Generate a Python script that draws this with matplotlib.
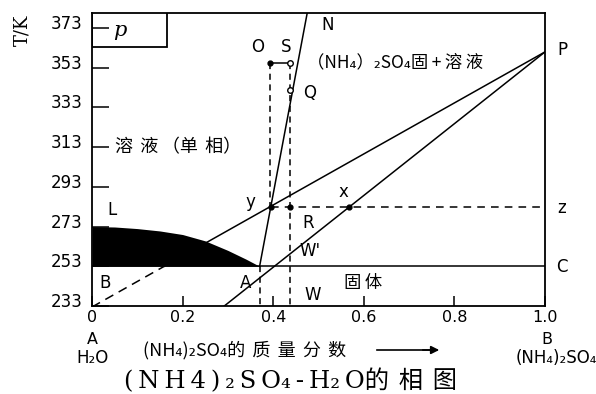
import matplotlib.pyplot as plt
from matplotlib.patches import Rectangle
from matplotlib.transforms import ScaledTranslation

CJK = ['Noto Sans CJK SC', 'DejaVu Sans']
LAT = ['DejaVu Sans', 'Noto Sans CJK SC']
SERIF = ['DejaVu Serif', 'Noto Sans CJK SC']

# 冰的析出曲线 (L -> A)
ice_x = [0.0, 0.05, 0.10, 0.15, 0.20, 0.25, 0.30, 0.34, 0.37]
ice_T = [273, 272.8, 272, 270.8, 269, 265.8, 261, 256.6, 253]
T_eut = 253

# 直线: A-N, 经 y 的线, 经 x 的线 (都交于 P)
an_x = [0.37, 0.475]
an_T = [253, 380.5]
upper_x = [0.0, 1.0]
upper_T = [232.5, 361]
lower_x = [0.292, 1.0]
lower_T = [233, 361]

# 结线 y-R-x-z
T_tie = 283
y_x, R_x, x_x = 0.395, 0.437, 0.567

# 系统点
O = (0.393, 355.5)
S = (0.437, 355.5)
Q = (0.437, 342)
A_x = 0.37

yticks = [233, 253, 273, 293, 313, 333, 353, 373]
xticks = [0, 0.2, 0.4, 0.6, 0.8, 1.0]
xtick_labels = ['0', '0.2', '0.4', '0.6', '0.8', '1.0']

W, H = 596, 394
fig = plt.figure(figsize=(W / 100, H / 100), dpi=100)
ax = fig.add_axes([92 / W, 1 - 306 / H, 453 / W, 293 / H])
ax.set_xlim(0, 1)
ax.set_ylim(233, 380.6)

for sp in ax.spines.values():
    sp.set_linewidth(1.3)

ax.set_yticks(yticks)
ax.set_yticklabels([str(t) for t in yticks], fontsize=12, family=LAT)
ax.set_xticks(xticks)
ax.set_xticklabels(xtick_labels, fontsize=11.5, family=LAT)
ax.tick_params(axis='y', direction='in', length=12, width=1.1, pad=7)
ax.tick_params(axis='x', direction='in', length=7, width=1.1, pad=3)
up = ScaledTranslation(0, 6 / 100, fig.dpi_scale_trans)
for lab in ax.get_yticklabels():
    lab.set_transform(lab.get_transform() + up)

lw = 1.1
dash = (0, (4, 3))

# 冰 + 溶液 两相区
ax.fill_between(ice_x, T_eut, ice_T, color='black', lw=0, zorder=3)
ax.axhline(T_eut, color='black', lw=lw, zorder=2)

# 经 y 的直线: 253 K 以下画虚线
x_cut = (T_eut - upper_T[0]) / (upper_T[1] - upper_T[0])
ax.plot([upper_x[0], x_cut], [upper_T[0], T_eut], color='black', lw=lw, ls=(0, (6, 4)))
ax.plot([x_cut, upper_x[1]], [T_eut, upper_T[1]], color='black', lw=lw, zorder=2)
ax.plot(lower_x, lower_T, color='black', lw=lw)
ax.plot(an_x, an_T, color='black', lw=lw)

# 虚线
ax.plot([y_x, 1.0], [T_tie, T_tie], color='black', lw=lw, ls=(0, (5, 4)))
ax.plot([O[0], O[0]], [O[1], T_tie], color='black', lw=lw, ls=dash)
ax.plot([S[0], S[0]], [S[1], 233], color='black', lw=lw, ls=dash)
ax.plot([A_x, A_x], [T_eut, 233], color='black', lw=lw, ls=dash)
ax.plot([O[0], S[0]], [O[1], S[1]], color='black', lw=lw)

# 点
ax.plot([O[0], y_x, R_x, x_x], [O[1], T_tie, T_tie, T_tie], 'o', color='black', ms=3.5, zorder=5)
ax.plot([S[0], Q[0]], [S[1], Q[1]], 'o', mfc='white', mec='black', ms=4, mew=1, zorder=5)

# 左上角的 p 框
ax.add_patch(Rectangle((0, 363.5), 0.166, 20, fill=False, lw=1.3, clip_on=True))
ax.text(0.062, 372, 'p', fontsize=15, style='italic', ha='center', va='center', family=SERIF)

pt = dict(fontsize=12, ha='center', va='center', family=LAT)
ax.text(0.044, 281.4, 'L', **pt)
ax.text(0.029, 244.6, 'B', **pt)
ax.text(0.338, 244.6, 'A', **pt)
ax.text(0.488, 238.5, 'W', **pt)
ax.text(0.482, 260.5, "W'", **pt)
ax.text(0.477, 274.8, 'R', **pt)
ax.text(0.349, 285.5, 'y', **pt)
ax.text(0.554, 290.4, 'x', **pt)
ax.text(0.366, 363.5, 'O', **pt)
ax.text(0.428, 363.5, 'S', **pt)
ax.text(0.481, 340.3, 'Q', **pt)
ax.text(0.521, 374.5, 'N', **pt)
ax.text(0.598, 244.6, '固\u2009体', fontsize=12.5, ha='center', va='center', family=CJK)
ax.text(0.051, 313, '溶\u2009\u2009液\u2009（单\u2009\u2009相）', fontsize=13, ha='left', va='center', family=CJK)
ax.text(0.475, 356, '（NH₄）₂SO₄固\u2009+\u2009溶\u2009液', fontsize=12.5, ha='left', va='center', family=CJK)

def fpos(px, py):
    return px / W, 1 - py / H

fig.text(*fpos(22, 30), 'T/K', rotation=90, fontsize=13, ha='center', va='center', family=SERIF)
fig.text(*fpos(557, 50), 'P', fontsize=12, ha='left', va='center', family=LAT)
fig.text(*fpos(557, 208), 'z', fontsize=12, ha='left', va='center', family=LAT)
fig.text(*fpos(556, 267), 'C', fontsize=12, ha='left', va='center', family=LAT)
fig.text(*fpos(92, 339), 'A', fontsize=11.5, ha='center', va='center', family=LAT)
fig.text(*fpos(92, 358), 'H₂O', fontsize=12, ha='center', va='center', family=LAT)
fig.text(*fpos(547, 339), 'B', fontsize=11.5, ha='center', va='center', family=LAT)
fig.text(*fpos(556, 358), '(NH₄)₂SO₄', fontsize=12, ha='center', va='center', family=LAT)
fig.text(*fpos(143, 350), '(NH₄)₂SO₄的\u2009\u2009质\u2009\u2009量\u2009\u2009分\u2009\u2009数',
         fontsize=13, ha='left', va='center', family=CJK)
fig.add_artist(plt.Line2D([377 / W, 432 / W], [1 - 350 / H] * 2, color='black', lw=1.2))
ax.annotate('', xy=fpos(442, 350), xytext=fpos(420, 350), xycoords='figure fraction',
            textcoords='figure fraction',
            arrowprops=dict(arrowstyle='-|>', color='black', lw=1.2, mutation_scale=12))
fig.text(*fpos(291, 381), '(\u2009N\u2009H\u20094\u2009)\u2009₂\u2009S\u2009O₄\u2009-\u2009H₂\u2009O的\u2009\u2009相\u2009\u2009图',
         fontsize=17.5, ha='center', va='center', family=SERIF)

fig.savefig('out.png', dpi=100)
